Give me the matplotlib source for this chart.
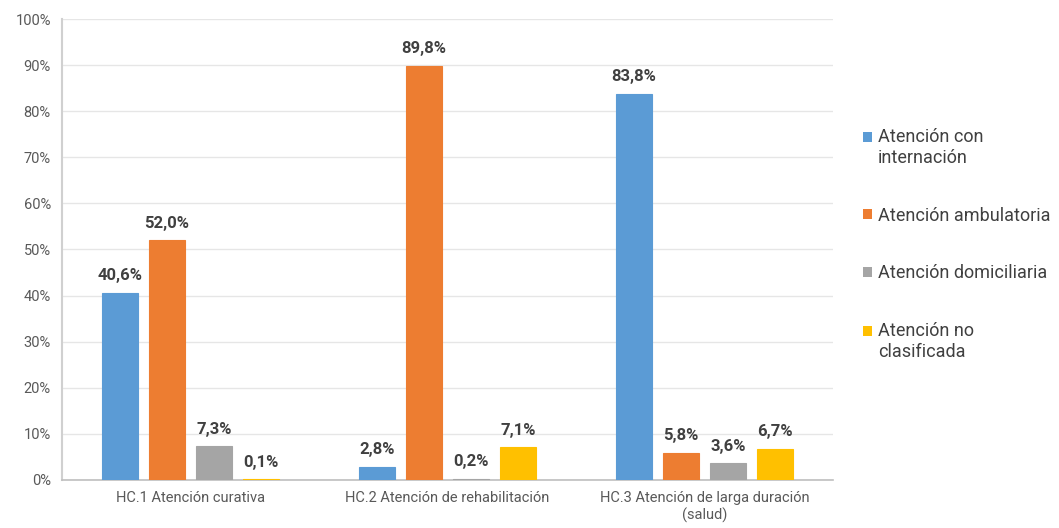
import numpy as np
import matplotlib.pyplot as plt
from matplotlib.ticker import PercentFormatter
from matplotlib.patches import Patch, Rectangle
from matplotlib.legend_handler import HandlerPatch

plt.rcParams['font.family'] = ['Roboto', 'DejaVu Sans']

# Categories and series values (%)
categories = ['HC.1 Atención curativa',
              'HC.2 Atención de rehabilitación',
              'HC.3 Atención de larga duración\n(salud)']
series_names = ['Atención con\ninternación',
                'Atención ambulatoria',
                'Atención domiciliaria',
                'Atención no\nclasificada']
internacion = [40.6, 2.8, 83.8]
ambulatoria = [52.0, 89.8, 5.8]
domiciliaria = [7.3, 0.2, 3.6]
no_clasificada = [0.1, 7.1, 6.7]
colors = ['#5B9BD5', '#ED7D31', '#A5A5A5', '#FFC000']

series = [internacion, ambulatoria, domiciliaria, no_clasificada]

fig = plt.figure(figsize=(10.59, 5.28), dpi=100)
ax = fig.add_axes([0.0585, 0.091, 0.728, 0.873])

x = np.arange(len(categories))
width = 0.14
step = 0.183

for i, (vals, col) in enumerate(zip(series, colors)):
    offs = (i - 1.5) * step
    bars = ax.bar(x + offs, vals, width, color=col, edgecolor=col,
                  linewidth=0.8, zorder=3)
    ax.bar_label(bars, labels=[f'{v:.1f}%'.replace('.', ',') for v in vals],
                 padding=7, fontsize=12, fontweight='bold', color='#404040')

ax.set_xlim(-0.5, 2.5)
ax.set_ylim(0, 100)
ax.set_yticks(np.arange(0, 101, 10))
ax.yaxis.set_major_formatter(PercentFormatter(decimals=0))
ax.set_xticks(x)
ax.set_xticklabels(categories)
ax.tick_params(axis='both', length=0, labelsize=10.5, colors='#595959', pad=8)

ax.grid(axis='y', color='#E6E6E6', linewidth=1, zorder=0)
for side in ['top', 'right']:
    ax.spines[side].set_visible(False)
ax.spines['left'].set_color('#D0D0D0')
ax.spines['left'].set_linewidth(1.5)
ax.spines['bottom'].set_color('#BFBFBF')
ax.spines['bottom'].set_linewidth(1.2)


# legend square sits next to the first line of a two-line label
def square_top(legend, orig_handle, xdescent, ydescent, width, height, fontsize):
    return Rectangle((-xdescent, -ydescent + 0.62 * fontsize), width, height)


def square_mid(legend, orig_handle, xdescent, ydescent, width, height, fontsize):
    return Rectangle((-xdescent, -ydescent), width, height)


handles = [Patch(facecolor=c, edgecolor='none') for c in colors]
hmap = {h: HandlerPatch(patch_func=square_top if '\n' in n else square_mid)
        for h, n in zip(handles, series_names)}
leg = fig.legend(handles, series_names, loc='upper left',
                 bbox_to_anchor=(0.8, 0.788), frameon=False,
                 fontsize=13, handlelength=0.5, handleheight=0.5,
                 handletextpad=0.3, labelspacing=2.2, labelcolor='#404040',
                 handler_map=hmap)

fig.savefig('out.png', dpi=100)
